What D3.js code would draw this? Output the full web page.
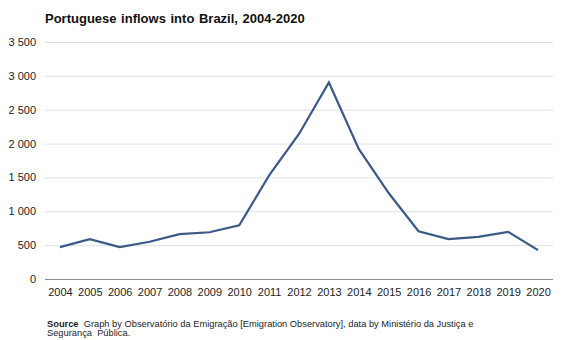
<!DOCTYPE html>
<html><head><meta charset="utf-8">
<script src="https://cdn.jsdelivr.net/npm/d3@7"></script>
<style>body{margin:0;background:#fff;}svg{display:block;font-family:"Liberation Sans",Arial,sans-serif;}</style>
</head><body><svg id="c" width="567" height="340"></svg>
<script>
const years = ["2004","2005","2006","2007","2008","2009","2010","2011","2012","2013","2014","2015","2016","2017","2018","2019","2020"];
const inflows = [470,588,470,550,662,690,794,1530,2142,2902,1921,1270,705,588,622,696,426];
const yTicks = [0,500,1000,1500,2000,2500,3000,3500];

const svg = d3.select("#c");
const m = {l:45, r:14, t:42, b:61};
const W = 567, H = 340;
const x = d3.scalePoint().domain(years).range([m.l, W-m.r]).padding(0.5);
const y = d3.scaleLinear().domain([0,3500]).range([H-m.b, m.t]);
const fmt = v => d3.format(",")(v).replace(/,/g," ");

svg.append("text").attr("x",45).attr("y",23).attr("font-size",13).attr("font-weight","bold")
  .attr("fill","#111").style("word-spacing","1px").text("Portuguese inflows into Brazil, 2004-2020");

const ya = svg.append("g").attr("transform",`translate(${m.l},0)`)
  .call(d3.axisLeft(y).tickValues(yTicks).tickSize(-(W-m.l-m.r)).tickPadding(9).tickFormat(fmt));
ya.select(".domain").remove();
ya.selectAll(".tick line").attr("stroke","#dde1e6").attr("stroke-width",1);
ya.selectAll(".tick text").attr("font-size",11).attr("fill","#222").attr("font-family","Liberation Sans, Arial, sans-serif");
ya.selectAll(".tick").filter(d=>d===0).select("line").attr("stroke","#8a8a8a");

const xa = svg.append("g").attr("transform",`translate(0,${H-m.b})`)
  .call(d3.axisBottom(x).tickSize(0).tickPadding(9));
xa.select(".domain").remove();
xa.selectAll(".tick text").attr("font-size",11).attr("fill","#222").attr("font-family","Liberation Sans, Arial, sans-serif");

svg.append("path").datum(inflows)
  .attr("fill","none").attr("stroke","#3a5a85").attr("stroke-width",2.2).attr("stroke-linejoin","miter")
  .attr("d", d3.line().x((d,i)=>x(years[i])).y(d=>y(d)));

const src = svg.append("text").attr("x",47).attr("y",327).attr("font-size",9.3).attr("fill","#222").style("white-space","pre");
src.append("tspan").attr("font-weight","bold").text("Source");
src.append("tspan").text("  Graph by Observatório da Emigração [Emigration Observatory], data by Ministério da Justiça e");
svg.append("text").attr("x",47).attr("y",336).attr("font-size",9.3).attr("fill","#222").style("white-space","pre").text("Segurança  Pública.");
</script></body></html>
